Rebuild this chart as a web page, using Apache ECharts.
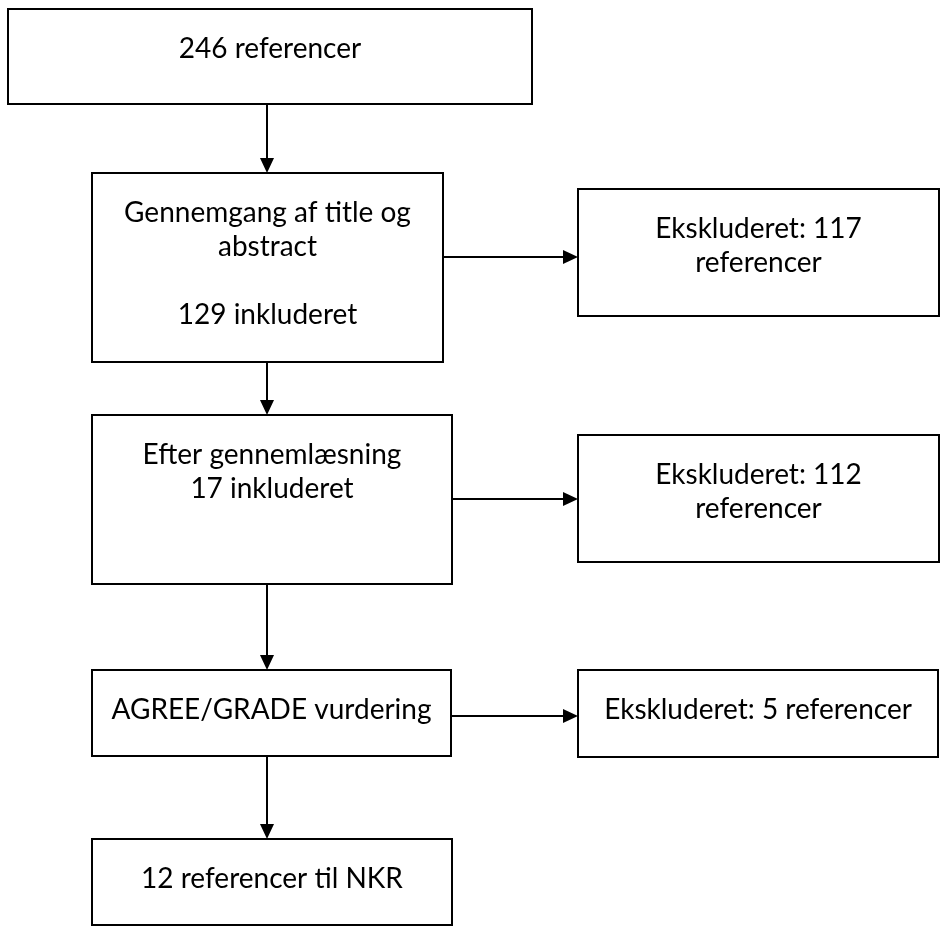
<!DOCTYPE html>
<html>
<head>
<meta charset="utf-8">
<title>Flowchart</title>
<script src="https://cdn.jsdelivr.net/npm/echarts@6/dist/echarts.min.js"></script>
<style>
  html, body { margin: 0; padding: 0; background: #fff; }
  #chart { width: 946px; height: 933px; }
</style>
</head>
<body>
<div id="chart"></div>
<script>
// box texts
var boxLabels = [
  '246 referencer',
  'Gennemgang af title og\nabstract\n\n129 inkluderet',
  'Ekskluderet: 117\nreferencer',
  'Efter gennemlæsning\n17 inkluderet',
  'Ekskluderet: 112\nreferencer',
  'AGREE/GRADE vurdering',
  'Ekskluderet: 5 referencer',
  '12 referencer til NKR'
];
// box extents (page units)
var boxLeft   = [8, 92, 578, 92, 578, 92, 578, 92];
var boxRight  = [532, 443, 939, 452, 939, 451, 938, 452];
var boxTop    = [9, 173, 189, 415, 435, 670, 670, 839];
var boxBottom = [104, 362, 316, 584, 562, 756, 757, 925];

// arrows: start and end points
var arrowFrom = [[267, 104], [267, 362], [267, 584], [267, 756], [443, 257], [452, 499], [451, 716]];
var arrowTo   = [[267, 173], [267, 415], [267, 670], [267, 839], [578, 257], [578, 499], [578, 716]];

var boxData = boxLabels.map(function (t, i) {
  return [boxLeft[i], boxTop[i], boxRight[i], boxBottom[i], t];
});
var arrowData = arrowFrom.map(function (p, i) {
  return [p[0], p[1], arrowTo[i][0], arrowTo[i][1]];
});

var chart = echarts.init(document.getElementById('chart'));

chart.setOption({
  backgroundColor: '#fff',
  animation: false,
  grid: { left: 0, right: 0, top: 0, bottom: 0 },
  xAxis: { type: 'value', min: 0, max: 946, show: false },
  yAxis: { type: 'value', min: 0, max: 933, inverse: true, show: false },
  series: [
    {
      type: 'custom',
      name: 'boxes',
      data: boxData,
      renderItem: function (params, api) {
        var p0 = api.coord([api.value(0), api.value(1)]);
        var p1 = api.coord([api.value(2), api.value(3)]);
        var label = boxLabels[params.dataIndex];
        return {
          type: 'group',
          children: [
            {
              type: 'rect',
              shape: { x: p0[0], y: p0[1], width: p1[0] - p0[0], height: p1[1] - p0[1] },
              style: { fill: '#fff', stroke: '#000', lineWidth: 2 }
            },
            {
              type: 'text',
              x: (p0[0] + p1[0]) / 2,
              y: p0[1] + 23,
              style: {
                text: label,
                align: 'center',
                verticalAlign: 'top',
                fontFamily: 'Lato',
                fontSize: 28,
                lineHeight: 34,
                fill: '#000'
              }
            }
          ]
        };
      }
    },
    {
      type: 'custom',
      name: 'arrows',
      data: arrowData,
      renderItem: function (params, api) {
        var a = api.coord([api.value(0), api.value(1)]);
        var b = api.coord([api.value(2), api.value(3)]);
        var dx = b[0] - a[0], dy = b[1] - a[1];
        var len = Math.sqrt(dx * dx + dy * dy);
        var ux = dx / len, uy = dy / len;
        var headLen = 15, headW = 7;
        var bx = b[0] - ux * headLen, by = b[1] - uy * headLen;
        return {
          type: 'group',
          children: [
            {
              type: 'line',
              shape: { x1: a[0], y1: a[1], x2: bx, y2: by },
              style: { stroke: '#000', lineWidth: 2 }
            },
            {
              type: 'polygon',
              shape: {
                points: [
                  [b[0], b[1]],
                  [bx - uy * headW, by + ux * headW],
                  [bx + uy * headW, by - ux * headW]
                ]
              },
              style: { fill: '#000' }
            }
          ]
        };
      }
    }
  ]
});
</script>
</body>
</html>
